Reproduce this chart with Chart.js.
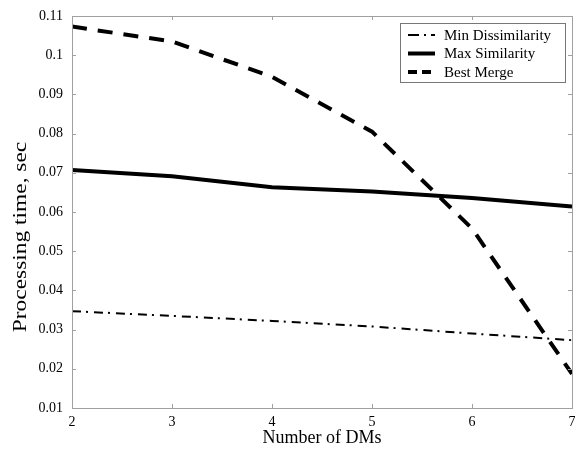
<!DOCTYPE html>
<html>
<head>
<meta charset="utf-8">
<script src="https://cdn.jsdelivr.net/npm/chart.js@4/dist/chart.umd.min.js"></script>
<style>
  html, body { margin: 0; padding: 0; background: #fff; }
  #wrap { width: 575px; height: 456px; }
</style>
</head>
<body>
<div id="wrap"><canvas id="chart"></canvas></div>
<script>
const numDMs = [2, 3, 4, 5, 6, 7];
const minDissimilarity = [0.0347, 0.0335, 0.0322, 0.0308, 0.0290, 0.0273];
const maxSimilarity = [0.0707, 0.0691, 0.0663, 0.0652, 0.0636, 0.0614];
const bestMerge = [0.1073, 0.1035, 0.0945, 0.0805, 0.0558, 0.0187];
const yTicks = [0.01, 0.02, 0.03, 0.04, 0.05, 0.06, 0.07, 0.08, 0.09, 0.1, 0.11];
const yTitle = 'Processing time, sec';
// shorter dash patterns for the legend samples
const legendDash = [[11, 5, 2, 5], [], [9, 5]];

const FONT = "'Liberation Serif', 'DejaVu Serif', serif";
const AXIS = '#a0a0a0';

// box frame with inward ticks, y title and the legend inside the plot
const framePlugin = {
    id: 'frame',
    afterDraw(chart) {
        const { ctx, chartArea: a, scales } = chart;
        ctx.save();
        ctx.strokeStyle = AXIS;
        ctx.lineWidth = 1;
        ctx.strokeRect(a.left + 0.5, a.top + 0.5, a.right - a.left, a.bottom - a.top);
        ctx.beginPath();
        numDMs.forEach(v => {
            const x = Math.round(scales.x.getPixelForValue(v)) + 0.5;
            ctx.moveTo(x, a.bottom); ctx.lineTo(x, a.bottom - 4);
            ctx.moveTo(x, a.top); ctx.lineTo(x, a.top + 4);
        });
        yTicks.forEach(v => {
            const y = Math.round(scales.y.getPixelForValue(v)) + 0.5;
            ctx.moveTo(a.left, y); ctx.lineTo(a.left + 4, y);
            ctx.moveTo(a.right, y); ctx.lineTo(a.right - 4, y);
        });
        ctx.stroke();

        // y axis title (stretched along its length like the original export)
        ctx.save();
        ctx.translate(21, 237);
        ctx.rotate(-Math.PI / 2);
        ctx.scale(1.3, 1);
        ctx.font = '18px ' + FONT;
        ctx.fillStyle = '#000';
        ctx.textAlign = 'center';
        ctx.textBaseline = 'middle';
        ctx.fillText(yTitle, 0, 0);
        ctx.restore();

        // legend
        const lx = 400, ly = 23, lw = 165, lh = 59;
        ctx.fillStyle = '#fff';
        ctx.fillRect(lx, ly, lw, lh);
        ctx.strokeStyle = '#777';
        ctx.strokeRect(lx + 0.5, ly + 0.5, lw, lh);
        ctx.font = '15px ' + FONT;
        ctx.textBaseline = 'middle';
        chart.data.datasets.forEach((ds, i) => {
            const y = ly + 12 + i * 18.5;
            ctx.strokeStyle = '#000';
            ctx.lineWidth = ds.borderWidth;
            ctx.setLineDash(legendDash[i]);
            ctx.beginPath();
            ctx.moveTo(lx + 8, y);
            ctx.lineTo(lx + 35, y);
            ctx.stroke();
            ctx.setLineDash([]);
            ctx.fillStyle = '#000';
            ctx.fillText(ds.label, lx + 44, y + 1);
        });
        ctx.restore();
    }
};

new Chart(document.getElementById('chart'), {
    type: 'line',
    data: {
        labels: numDMs,
        datasets: [
            {
                label: 'Min Dissimilarity',
                data: minDissimilarity,
                borderColor: '#000',
                borderWidth: 2,
                borderDash: [9, 5, 2, 6],
                pointRadius: 0,
                tension: 0
            },
            {
                label: 'Max Similarity',
                data: maxSimilarity,
                borderColor: '#000',
                borderWidth: 4,
                pointRadius: 0,
                tension: 0
            },
            {
                label: 'Best Merge',
                data: bestMerge,
                borderColor: '#000',
                borderWidth: 4,
                borderDash: [15, 11],
                pointRadius: 0,
                tension: 0
            }
        ]
    },
    options: {
        responsive: true,
        maintainAspectRatio: false,
        animation: false,
        layout: { padding: { top: 16, right: 3, left: 0, bottom: 0 } },
        plugins: {
            legend: { display: false },
            tooltip: { enabled: false }
        },
        scales: {
            x: {
                type: 'linear',
                min: 2,
                max: 7,
                grid: { display: false },
                border: { display: false },
                afterFit: s => { s.height = 48; },
                afterBuildTicks: s => { s.ticks = numDMs.map(v => ({ value: v })); },
                ticks: {
                    color: '#000',
                    font: { family: FONT, size: 14 },
                    padding: -2,
                    maxRotation: 0
                },
                title: {
                    display: true,
                    text: 'Number of DMs',
                    color: '#000',
                    font: { family: FONT, size: 18 },
                    padding: { top: 0, bottom: 7 }
                }
            },
            y: {
                min: 0.01,
                max: 0.11,
                grid: { display: false },
                border: { display: false },
                afterFit: s => { s.width = 72; },
                afterBuildTicks: s => { s.ticks = yTicks.map(v => ({ value: v })); },
                ticks: {
                    color: '#000',
                    font: { family: FONT, size: 14 },
                    padding: 1,
                    callback: v => String(+v.toFixed(2))
                }
            }
        }
    },
    plugins: [framePlugin]
});
</script>
</body>
</html>
